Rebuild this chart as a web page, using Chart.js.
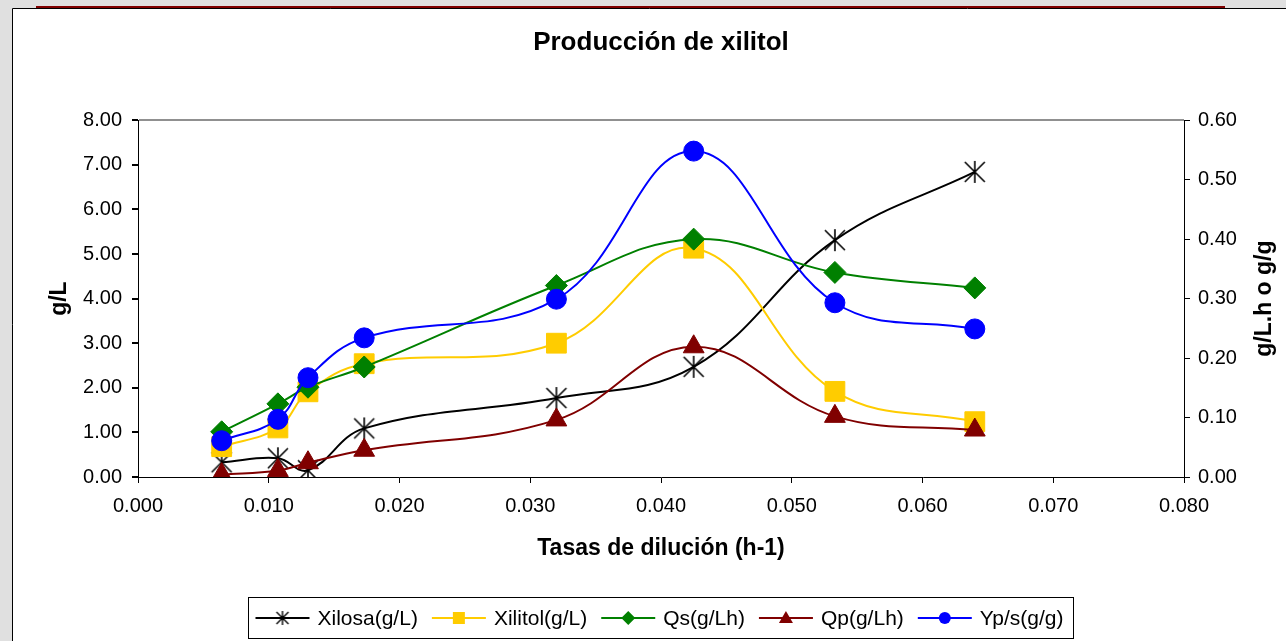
<!DOCTYPE html>
<html>
<head>
<meta charset="utf-8">
<title>Producción de xilitol</title>
<script src="https://cdn.jsdelivr.net/npm/chart.js@4.4.1/dist/chart.umd.min.js"></script>
<style>
  html, body { margin: 0; padding: 0; background: #e0e0e0; overflow: hidden; }
  canvas { display: block; }
</style>
</head>
<body>
<canvas id="myChart" width="1286" height="641"></canvas>
<script>
// datos
const tasas   = [0.0064, 0.0107, 0.0130, 0.0173, 0.0320, 0.0425, 0.0533, 0.0640];
const xilosa  = [0.33, 0.42, 0.15, 1.09, 1.77, 2.47, 5.31, 6.84];
const xilitol = [0.68, 1.10, 1.91, 2.54, 3.00, 5.13, 1.92, 1.24];
const qs      = [0.076, 0.123, 0.151, 0.185, 0.322, 0.400, 0.344, 0.318];
const qp      = [0.004, 0.011, 0.024, 0.045, 0.096, 0.219, 0.102, 0.079];
const yps     = [0.061, 0.097, 0.167, 0.234, 0.299, 0.548, 0.293, 0.249];

const xTicks     = [0, 0.01, 0.02, 0.03, 0.04, 0.05, 0.06, 0.07, 0.08];
const leftTicks  = [0, 1, 2, 3, 4, 5, 6, 7, 8];
const rightTicks = [0, 0.1, 0.2, 0.3, 0.4, 0.5, 0.6];

const FONT = '"Liberation Sans", Arial, sans-serif';
Chart.defaults.font.family = FONT;
Chart.defaults.color = '#000';

function makeStar(h, lw) {
    var c = document.createElement('canvas');
    c.width = 2 * h + 2;
    c.height = 2 * h + 2;
    var g = c.getContext('2d');
    var m = h + 1;
    g.strokeStyle = '#000';
    g.lineWidth = lw;
    g.beginPath();
    g.moveTo(m, m - h); g.lineTo(m, m + h);
    g.moveTo(m - h + 1, m - h + 1); g.lineTo(m + h - 1, m + h - 1);
    g.moveTo(m + h - 1, m - h + 1); g.lineTo(m - h + 1, m + h - 1);
    g.stroke();
    return c;
}
const starBig = makeStar(11, 1.6);
const starSmall = makeStar(7, 1.4);

function serie(label, values, axis, color, style, radius, order, legendStyle) {
    return {
        label: label,
        yAxisID: axis,
        order: order,
        data: tasas.map(function (x, i) { return { x: x, y: values[i] }; }),
        borderColor: color,
        backgroundColor: color,
        borderWidth: 2,
        tension: 0.4,
        fill: false,
        pointStyle: style,
        pointRadius: radius,
        pointHoverRadius: radius,
        pointBorderColor: color,
        pointBackgroundColor: color,
        pointBorderWidth: 1,
        legendStyle: legendStyle
    };
}

const frame = {
    id: 'frame',
    beforeDraw(chart) {
        const ctx = chart.ctx, W = chart.width, H = chart.height;
        ctx.save();
        ctx.fillStyle = '#e0e0e0';
        ctx.fillRect(0, 0, W, H);
        ctx.fillStyle = '#ffffff';
        ctx.fillRect(12, 8, W - 12, H - 8);
        ctx.strokeStyle = '#000';
        ctx.lineWidth = 1;
        ctx.beginPath();
        ctx.moveTo(12.5, H); ctx.lineTo(12.5, 8.5); ctx.lineTo(W, 8.5);
        ctx.stroke();
        ctx.strokeStyle = '#800000';
        ctx.lineWidth = 2;
        ctx.beginPath();
        ctx.moveTo(36, 7); ctx.lineTo(1225, 7);
        ctx.stroke();
        ctx.restore();
    }
};

const rightTitle = {
    id: 'rightTitle',
    afterDraw(chart) {
        const ctx = chart.ctx, a = chart.chartArea;
        ctx.save();
        ctx.translate(1265, (a.top + a.bottom) / 2);
        ctx.rotate(-Math.PI / 2);
        ctx.font = 'bold 23px ' + FONT;
        ctx.fillStyle = '#000';
        ctx.textAlign = 'center';
        ctx.textBaseline = 'middle';
        ctx.fillText('g/L.h o g/g', 0, 0);
        ctx.restore();
    }
};

function legendMarker(ctx, s, x, y, color) {
    ctx.fillStyle = color;
    ctx.beginPath();
    if (s === 'star') {
        ctx.drawImage(starSmall, x - starSmall.width / 2, y - starSmall.height / 2);
        return;
    } else if (s === 'rect') {
        ctx.rect(x - 6, y - 6, 12, 12);
    } else if (s === 'rectRot') {
        ctx.moveTo(x, y - 7); ctx.lineTo(x + 7, y); ctx.lineTo(x, y + 7); ctx.lineTo(x - 7, y);
        ctx.closePath();
    } else if (s === 'triangle') {
        ctx.moveTo(x, y - 7); ctx.lineTo(x + 7, y + 5); ctx.lineTo(x - 7, y + 5);
        ctx.closePath();
    } else {
        ctx.arc(x, y, 6, 0, Math.PI * 2);
    }
    ctx.fill();
}

const boxLegend = {
    id: 'boxLegend',
    afterDraw(chart) {
        const ctx = chart.ctx;
        const ds = chart.data.datasets;
        const sampleLen = 54, gapText = 8, gapItem = 14, padL = 7, padR = 10;
        ctx.save();
        ctx.font = '21px ' + FONT;
        var widths = ds.map(function (d) { return ctx.measureText(d.label).width; });
        var total = padL + padR + gapItem * (ds.length - 1);
        widths.forEach(function (w) { total += sampleLen + gapText + w; });
        var bx = Math.round(660 - total / 2) + 0.5, by = 597.5, bh = 41;
        ctx.strokeStyle = '#000';
        ctx.lineWidth = 1;
        ctx.strokeRect(bx, by, Math.round(total), bh);
        var cy = by + bh / 2;
        var x = bx + padL;
        ds.forEach(function (d, i) {
            ctx.strokeStyle = d.borderColor;
            ctx.lineWidth = 2;
            ctx.beginPath();
            ctx.moveTo(x, cy); ctx.lineTo(x + sampleLen, cy);
            ctx.stroke();
            legendMarker(ctx, d.legendStyle, x + sampleLen / 2, cy, d.borderColor);
            x += sampleLen + gapText;
            ctx.fillStyle = '#000';
            ctx.textAlign = 'left';
            ctx.textBaseline = 'middle';
            ctx.fillText(d.label, x, cy + 1);
            x += widths[i] + gapItem;
        });
        ctx.restore();
    }
};

const data = {
    type: 'line',
    data: {
        datasets: [
            serie('Xilosa(g/L)', xilosa, 'y', '#000000', starBig, 11, 5, 'star'),
            serie('Xilitol(g/L)', xilitol, 'y', '#FFCC00', 'rect', 14, 4, 'rect'),
            serie('Qs(g/Lh)', qs, 'y1', '#008000', 'rectRot', 11, 3, 'rectRot'),
            serie('Qp(g/Lh)', qp, 'y1', '#800000', 'triangle', 12, 2, 'triangle'),
            serie('Yp/s(g/g)', yps, 'y1', '#0000FF', 'circle', 10, 1, 'circle')
        ]
    },
    options: {
        responsive: false,
        animation: false,
        events: [],
        layout: { padding: 0 },
        plugins: {
            legend: { display: false },
            tooltip: { enabled: false },
            title: {
                display: true,
                fullSize: false,
                text: 'Producción de xilitol',
                font: { size: 26, weight: 'bold' },
                padding: { top: 27, bottom: 62 }
            }
        },
        scales: {
            x: {
                type: 'linear',
                position: 'bottom',
                min: 0,
                max: 0.08,
                afterBuildTicks: function (s) { s.ticks = xTicks.map(function (v) { return { value: v }; }); },
                afterFit: function (s) { s.height = 164; },
                ticks: {
                    font: { size: 20 },
                    padding: 11,
                    maxRotation: 0,
                    callback: function (v) { return Number(v).toFixed(3); }
                },
                grid: { drawOnChartArea: false, tickLength: 6, tickColor: '#000', color: '#000' },
                border: { color: '#000', width: 1 },
                title: {
                    display: true,
                    text: 'Tasas de dilución (h-1)',
                    font: { size: 23, weight: 'bold' },
                    padding: { top: 0, bottom: 79 }
                }
            },
            y: {
                position: 'left',
                min: 0,
                max: 8,
                afterBuildTicks: function (s) { s.ticks = leftTicks.map(function (v) { return { value: v }; }); },
                afterFit: function (s) { s.width = 138; },
                ticks: {
                    font: { size: 20 },
                    padding: 10,
                    callback: function (v) { return Number(v).toFixed(2); }
                },
                grid: {
                    tickLength: 6,
                    tickColor: '#000',
                    color: function (c) { return c.tick && c.tick.value === 8 ? '#909090' : 'rgba(0,0,0,0)'; },
                    lineWidth: 2
                },
                border: { color: '#000', width: 1 },
                title: {
                    display: true,
                    text: 'g/L',
                    font: { size: 23, weight: 'bold' },
                    padding: { top: 46, bottom: 0 }
                }
            },
            y1: {
                position: 'right',
                min: 0,
                max: 0.6,
                afterBuildTicks: function (s) { s.ticks = rightTicks.map(function (v) { return { value: v }; }); },
                afterFit: function (s) { s.width = 102; },
                ticks: {
                    font: { size: 20 },
                    padding: 8,
                    callback: function (v) { return Number(v).toFixed(2); }
                },
                grid: { drawOnChartArea: false, tickLength: 6, tickColor: '#000' },
                border: { color: '#000', width: 1 }
            }
        }
    },
    plugins: [frame, rightTitle, boxLegend]
};

window.onload = function () {
    new Chart('myChart', data);
};
</script>
</body>
</html>
